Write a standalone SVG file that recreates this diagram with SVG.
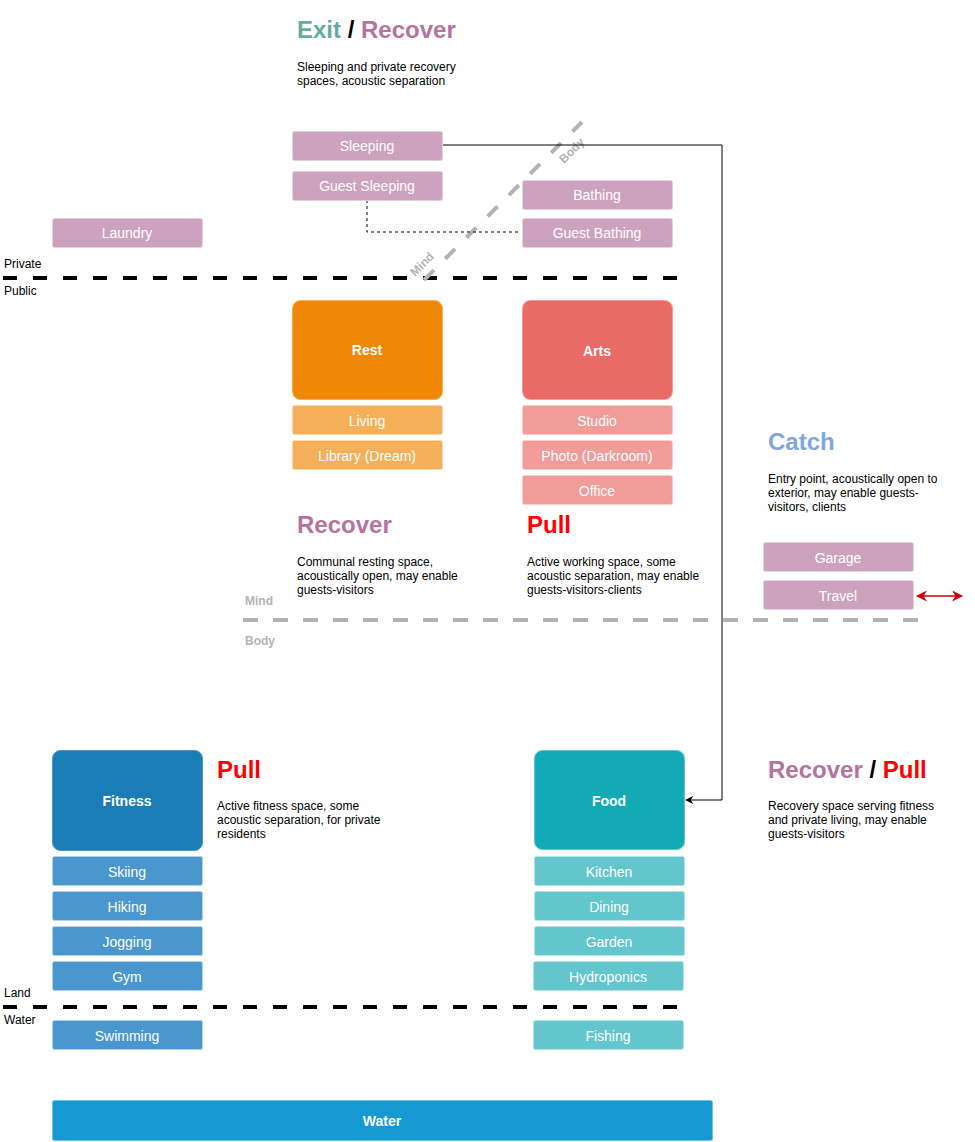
<svg xmlns="http://www.w3.org/2000/svg" width="975" height="1142" viewBox="0 0 975 1142">
<style>
text{font-family:"Liberation Sans",Arial,Helvetica,sans-serif}
.lbl{fill:#fff;font-size:14px;text-anchor:middle}
.big{fill:#fff;font-size:14px;font-weight:bold;text-anchor:middle}
.title{font-size:24px;font-weight:bold}
.desc{font-size:12px;fill:#000}
.zone{font-size:12px;fill:#000}
.gz{font-size:12px;font-weight:bold;fill:#B3B3B3}
.pink{fill:#CDA2BE;stroke:#E6D0DE}
.orange{fill:#F5AF58;stroke:#FAD7AC}
.red{fill:#F19C99;stroke:#F8CECC}
.blue{fill:#4A96CE;stroke:#B1D0EA}
.teal{fill:#62C6CC;stroke:#B0E3E6}
</style>
<defs>
<marker id="arr" viewBox="0 0 10 10" refX="9" refY="5" markerWidth="8" markerHeight="8" markerUnits="userSpaceOnUse" orient="auto"><path d="M0,0 L10,5 L0,10 L3,5 Z" fill="#000"/></marker>
<marker id="rarr" viewBox="0 0 10 10" refX="9" refY="5" markerWidth="11" markerHeight="11" markerUnits="userSpaceOnUse" orient="auto-start-reverse"><path d="M0,0 L10,5 L0,10 L3,5 Z" fill="#CC0000"/></marker>
</defs>

<g id="dividers">
<line x1="3" y1="278" x2="678" y2="278" stroke="#000" stroke-width="4" stroke-dasharray="14 16"/>
<line x1="3" y1="1007" x2="678" y2="1007" stroke="#000" stroke-width="4" stroke-dasharray="14 16"/>
<line x1="243" y1="620" x2="920" y2="620" stroke="#B3B3B3" stroke-width="4" stroke-dasharray="15 15"/>
<line x1="424" y1="280" x2="582" y2="122" stroke="#B3B3B3" stroke-width="4" stroke-dasharray="14 16"/>
<text class="zone" x="4" y="268">Private</text>
<text class="zone" x="4" y="295">Public</text>
<text class="zone" x="4" y="997">Land</text>
<text class="zone" x="4" y="1024">Water</text>
<text class="gz" x="245" y="605">Mind</text>
<text class="gz" x="245" y="645">Body</text>
<text class="gz" transform="translate(415,277) rotate(-45)">Mind</text>
<text class="gz" transform="translate(564,164) rotate(-45)">Body</text>
</g>

<g id="titles">
<text class="title" x="297" y="38"><tspan fill="#67AB9F">Exit</tspan><tspan fill="#000"> / </tspan><tspan fill="#B5739D">Recover</tspan></text>
<text class="desc" x="297" y="71">Sleeping and private recovery</text>
<text class="desc" x="297" y="85">spaces, acoustic separation</text>
<text class="title" x="297" y="533" fill="#B5739D">Recover</text>
<text class="desc" x="297" y="566">Communal resting space,</text>
<text class="desc" x="297" y="580">acoustically open, may enable</text>
<text class="desc" x="297" y="594">guests-visitors</text>
<text class="title" x="527" y="533" fill="#FF0000">Pull</text>
<text class="desc" x="527" y="566">Active working space, some</text>
<text class="desc" x="527" y="580">acoustic separation, may enable</text>
<text class="desc" x="527" y="594">guests-visitors-clients</text>
<text class="title" x="768" y="450" fill="#7EA6E0">Catch</text>
<text class="desc" x="768" y="483">Entry point, acoustically open to</text>
<text class="desc" x="768" y="497">exterior, may enable guests-</text>
<text class="desc" x="768" y="511">visitors, clients</text>
<text class="title" x="217" y="778" fill="#FF0000">Pull</text>
<text class="desc" x="217" y="810">Active fitness space, some</text>
<text class="desc" x="217" y="824">acoustic separation, for private</text>
<text class="desc" x="217" y="838">residents</text>
<text class="title" x="768" y="778"><tspan fill="#B5739D">Recover</tspan><tspan fill="#000"> / </tspan><tspan fill="#FF0000">Pull</tspan></text>
<text class="desc" x="768" y="810">Recovery space serving fitness</text>
<text class="desc" x="768" y="824">and private living, may enable</text>
<text class="desc" x="768" y="838">guests-visitors</text>
</g>

<g id="connectors" fill="none">
<path d="M443,145 H722 V800 H686" stroke="#000" stroke-width="1" marker-end="url(#arr)"/>
<path d="M367,200 V232 H521" stroke="#000" stroke-width="1" stroke-dasharray="3 3"/>
<line x1="917" y1="596" x2="962" y2="596" stroke="#CC0000" stroke-width="1.5" marker-start="url(#rarr)" marker-end="url(#rarr)"/>
</g>

<g id="sleeping"><rect class="pink" x="292.5" y="131.5" width="150" height="29" rx="2"/><text class="lbl" x="367" y="151">Sleeping</text></g>
<g id="guest-sleeping"><rect class="pink" x="292.5" y="171.5" width="150" height="29" rx="2"/><text class="lbl" x="367" y="191">Guest Sleeping</text></g>
<g id="bathing"><rect class="pink" x="522.5" y="180.5" width="150" height="29" rx="2"/><text class="lbl" x="597" y="200">Bathing</text></g>
<g id="guest-bathing"><rect class="pink" x="522.5" y="218.5" width="150" height="29" rx="2"/><text class="lbl" x="597" y="238">Guest Bathing</text></g>
<g id="laundry"><rect class="pink" x="52.5" y="218.5" width="150" height="29" rx="2"/><text class="lbl" x="127" y="238">Laundry</text></g>

<g id="rest"><rect x="292.5" y="300.5" width="150" height="99" rx="8" fill="#F08705" stroke="#F5AF58"/><text class="big" x="367" y="355">Rest</text></g>
<g id="living"><rect class="orange" x="292.5" y="405.5" width="150" height="29" rx="2"/><text class="lbl" x="367" y="426">Living</text></g>
<g id="library"><rect class="orange" x="292.5" y="440.5" width="150" height="29" rx="2"/><text class="lbl" x="367" y="461">Library (Dream)</text></g>

<g id="arts"><rect x="522.5" y="300.5" width="150" height="99" rx="8" fill="#EA6B66" stroke="#F19C99"/><text class="big" x="597" y="356">Arts</text></g>
<g id="studio"><rect class="red" x="522.5" y="405.5" width="150" height="29" rx="2"/><text class="lbl" x="597" y="426">Studio</text></g>
<g id="photo"><rect class="red" x="522.5" y="440.5" width="150" height="29" rx="2"/><text class="lbl" x="597" y="461">Photo (Darkroom)</text></g>
<g id="office"><rect class="red" x="522.5" y="475.5" width="150" height="29" rx="2"/><text class="lbl" x="597" y="496">Office</text></g>

<g id="garage"><rect class="pink" x="763.5" y="542.5" width="150" height="29" rx="2"/><text class="lbl" x="838" y="563">Garage</text></g>
<g id="travel"><rect class="pink" x="763.5" y="580.5" width="150" height="29" rx="2"/><text class="lbl" x="838" y="601">Travel</text></g>

<g id="fitness"><rect x="52.5" y="750.5" width="150" height="100" rx="8" fill="#1B7DB6" stroke="#4A96CE"/><text class="big" x="127" y="806">Fitness</text></g>
<g id="skiing"><rect class="blue" x="52.5" y="856.5" width="150" height="29" rx="2"/><text class="lbl" x="127" y="877">Skiing</text></g>
<g id="hiking"><rect class="blue" x="52.5" y="891.5" width="150" height="29" rx="2"/><text class="lbl" x="127" y="912">Hiking</text></g>
<g id="jogging"><rect class="blue" x="52.5" y="926.5" width="150" height="29" rx="2"/><text class="lbl" x="127" y="947">Jogging</text></g>
<g id="gym"><rect class="blue" x="52.5" y="961.5" width="150" height="29" rx="2"/><text class="lbl" x="127" y="982">Gym</text></g>
<g id="swimming"><rect class="blue" x="52.5" y="1020.5" width="150" height="29" rx="2"/><text class="lbl" x="127" y="1041">Swimming</text></g>

<g id="food"><rect x="534.5" y="750.5" width="150" height="99" rx="8" fill="#12AAB5" stroke="#62C6CC"/><text class="big" x="609" y="806">Food</text></g>
<g id="kitchen"><rect class="teal" x="534.5" y="856.5" width="150" height="29" rx="2"/><text class="lbl" x="609" y="877">Kitchen</text></g>
<g id="dining"><rect class="teal" x="534.5" y="891.5" width="150" height="29" rx="2"/><text class="lbl" x="609" y="912">Dining</text></g>
<g id="garden"><rect class="teal" x="534.5" y="926.5" width="150" height="29" rx="2"/><text class="lbl" x="609" y="947">Garden</text></g>
<g id="hydroponics"><rect class="teal" x="533.5" y="961.5" width="150" height="29" rx="2"/><text class="lbl" x="608" y="982">Hydroponics</text></g>
<g id="fishing"><rect class="teal" x="533.5" y="1020.5" width="150" height="29" rx="2"/><text class="lbl" x="608" y="1041">Fishing</text></g>

<g id="water"><rect x="52.5" y="1100.5" width="660" height="40" rx="2" fill="#1699D3" stroke="#6FBFE6"/><text class="big" x="382" y="1126">Water</text></g>
</svg>
